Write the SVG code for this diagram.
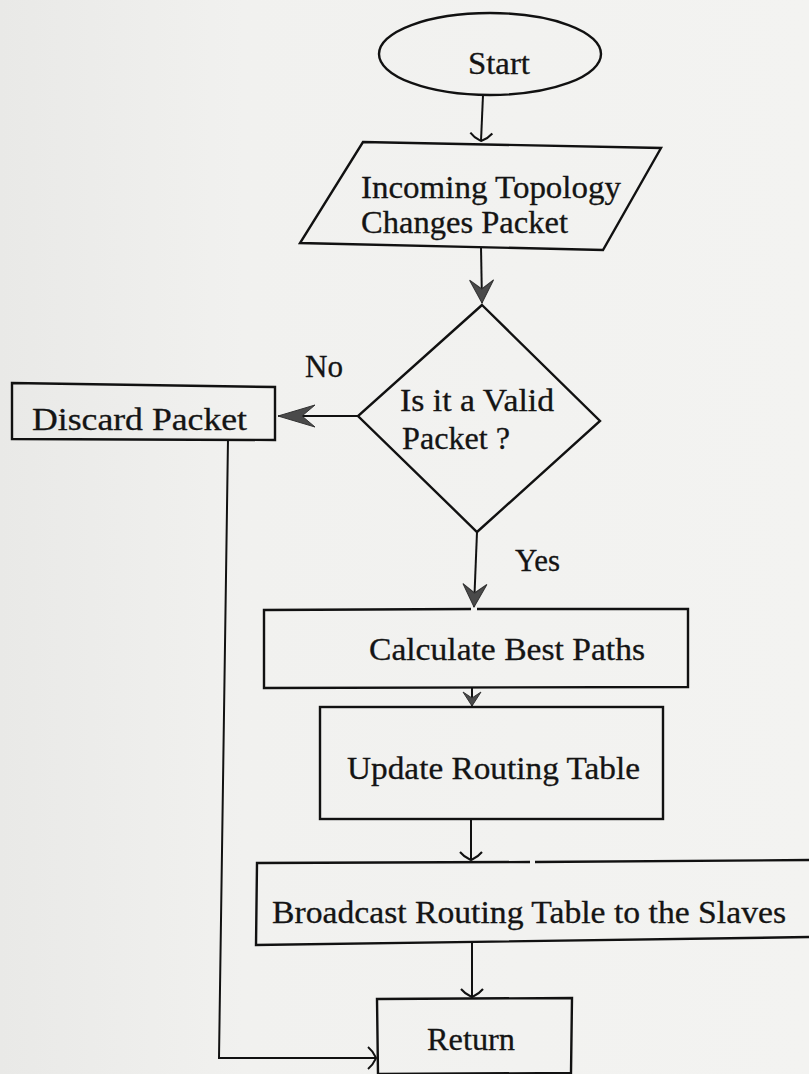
<svg xmlns="http://www.w3.org/2000/svg" width="809" height="1074" viewBox="0 0 809 1074">
  <defs>
    <linearGradient id="paper" x1="0" y1="0" x2="1" y2="0">
      <stop offset="0" stop-color="#e9e9e7"/>
      <stop offset="0.3" stop-color="#f1f1ef"/>
      <stop offset="1" stop-color="#f3f3f1"/>
    </linearGradient>
    <!-- filled barbed arrowhead -->
    <marker id="barb" viewBox="-24 -13 26 26" refX="0" refY="0" markerWidth="26" markerHeight="26" markerUnits="userSpaceOnUse" orient="auto">
      <path d="M0,0 L-23,-12 L-14,0 L-23,12 Z" fill="#4a4a4a" stroke="#333" stroke-width="1"/>
    </marker>
    <marker id="barbSmall" viewBox="-16 -10 18 20" refX="0" refY="0" markerWidth="18" markerHeight="20" markerUnits="userSpaceOnUse" orient="auto">
      <path d="M0,0 L-14,-9 L-8,0 L-14,9 Z" fill="#4a4a4a" stroke="#333" stroke-width="1"/>
    </marker>
    <marker id="barbWide" viewBox="-40 -13 42 26" refX="0" refY="0" markerWidth="42" markerHeight="26" markerUnits="userSpaceOnUse" orient="auto">
      <path d="M0,0 L-37,-11 L-24,0 L-37,11 Z" fill="#4a4a4a" stroke="#333" stroke-width="1"/>
    </marker>
    <!-- open curved arrowhead -->
    <marker id="open" viewBox="-10 -13 12 26" refX="0" refY="0" markerWidth="12" markerHeight="26" markerUnits="userSpaceOnUse" orient="auto">
      <path d="M-8,-11 C-2,-6 -1,-2 0,0 C-1,2 -2,6 -8,11" fill="none" stroke="#111" stroke-width="2"/>
    </marker>
  </defs>
  <style>
    .shape { fill: none; stroke: #111; stroke-width: 2.4; stroke-linejoin: miter; }
    .wire { fill: none; stroke: #111; stroke-width: 2; }
    .label { font-family: "Liberation Serif", "Times New Roman", serif; font-size: 31px; fill: #141414; stroke: #141414; stroke-width: 0.3; }
  </style>

  <rect x="0" y="0" width="809" height="1074" fill="url(#paper)"/>

  <g id="connectors">
    <line class="wire" x1="483" y1="95" x2="481" y2="141" marker-end="url(#open)"/>
    <line class="wire" x1="481" y1="247" x2="482" y2="303" marker-end="url(#barb)"/>
    <line class="wire" x1="358" y1="416" x2="278" y2="416" marker-end="url(#barbWide)"/>
    <line class="wire" x1="477" y1="532" x2="474" y2="607" marker-end="url(#barb)"/>
    <line class="wire" x1="472" y1="688" x2="472" y2="706" marker-end="url(#barbSmall)"/>
    <line class="wire" x1="471" y1="819" x2="471" y2="860" marker-end="url(#open)"/>
    <line class="wire" x1="472" y1="943" x2="472" y2="997" marker-end="url(#open)"/>
    <polyline class="wire" points="228,439 219,1058 376,1058" marker-end="url(#open)"/>
  </g>

  <g id="start">
    <ellipse class="shape" cx="490" cy="54" rx="111" ry="41"/>
    <text class="label" x="468" y="74" textLength="62" lengthAdjust="spacingAndGlyphs">Start</text>
  </g>

  <g id="incoming-packet">
    <polygon class="shape" points="363,142 661,148 603,250 300,243"/>
    <text class="label" x="361" y="198" textLength="260" lengthAdjust="spacingAndGlyphs">Incoming Topology</text>
    <text class="label" x="361" y="233" textLength="207" lengthAdjust="spacingAndGlyphs">Changes Packet</text>
  </g>

  <g id="valid-check">
    <polygon class="shape" points="482,305 600,421 477,532 358,416"/>
    <text class="label" x="400" y="411" textLength="154" lengthAdjust="spacingAndGlyphs">Is it a Valid</text>
    <text class="label" x="402" y="449" textLength="108" lengthAdjust="spacingAndGlyphs">Packet ?</text>
    <text class="label" x="305" y="377" textLength="38" lengthAdjust="spacingAndGlyphs">No</text>
    <text class="label" x="515" y="571" textLength="45" lengthAdjust="spacingAndGlyphs">Yes</text>
  </g>

  <g id="discard">
    <polygon class="shape" points="12,383 275,387 275,440 12,439"/>
    <text class="label" x="32" y="430" textLength="215" lengthAdjust="spacingAndGlyphs">Discard Packet</text>
  </g>

  <g id="calculate">
    <path class="shape" d="M471,609 L264,610 L264,688 L688,687 L688,609 L477,609"/>
    <text class="label" x="369" y="660" textLength="276" lengthAdjust="spacingAndGlyphs">Calculate Best Paths</text>
  </g>

  <g id="update">
    <rect class="shape" x="320" y="707" width="343" height="112"/>
    <text class="label" x="347" y="779" textLength="293" lengthAdjust="spacingAndGlyphs">Update Routing Table</text>
  </g>

  <g id="broadcast">
    <path class="shape" d="M530,862 L257,863 L256,945 L812,937 M812,860 L535,862"/>
    <text class="label" x="272" y="923" textLength="514" lengthAdjust="spacingAndGlyphs">Broadcast Routing Table to the Slaves</text>
  </g>

  <g id="return">
    <polygon class="shape" points="377,999 572,998 571,1073 378,1074"/>
    <text class="label" x="427" y="1050" textLength="88" lengthAdjust="spacingAndGlyphs">Return</text>
  </g>
</svg>
